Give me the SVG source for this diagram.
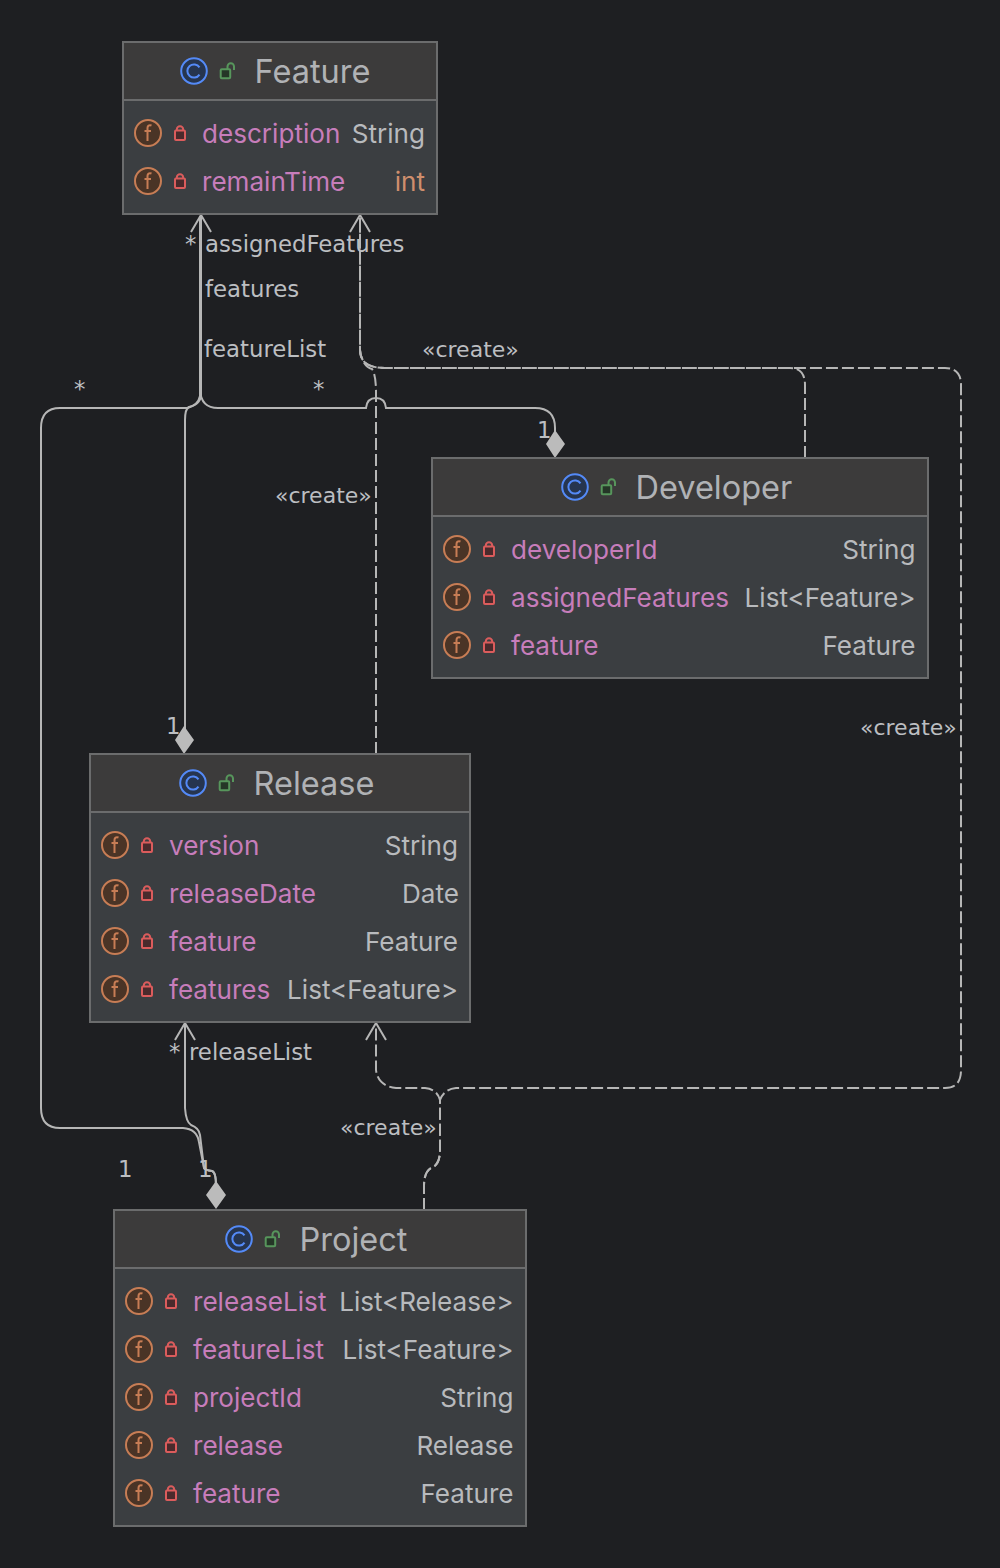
<svg xmlns="http://www.w3.org/2000/svg" width="1000" height="1568" viewBox="0 0 1000 1568">
<style>
.body{fill:#3b3e41;stroke:#6b6c6d;stroke-width:2}
.head{fill:#3c3b3b}
.sep{stroke:#6b6c6d;stroke-width:2}
text{font-family:"Inter","Liberation Sans",sans-serif}
.title{font-size:32.5px;fill:#b0b2b5}
.name{font-size:26.1px;fill:#c77dbb}
.type{font-size:26.1px;fill:#b8babd;text-anchor:end}
.type.prim{fill:#cf8e6d}
.lab{font-family:"DejaVu Sans",sans-serif;font-size:22.8px;fill:#bcbec1}
.cr{font-family:"DejaVu Sans",sans-serif;font-size:22px;fill:#bcbec1}
.conn{fill:none;stroke:#b6b6b6;stroke-width:2}
.dash{stroke-dasharray:12 4}
.dia{fill:#bbb}
</style>
<defs>
<g id="ic"><circle r="12.8" fill="#26354f" stroke="#548af7" stroke-width="2"/><path d="M5.500-3.600A6.600 6.600 0 1 0 5.500 3.600" fill="none" stroke="#548af7" stroke-width="2"/></g>
<g id="ul"><rect x="-7.300" y="-1.700" width="9.500" height="9" rx="1" fill="#253627" stroke="#57965c" stroke-width="2"/><path d="M-.5-2V-4.500A3.200 3.200 0 0 1 6-4.500V-1" fill="none" stroke="#57965c" stroke-width="2"/></g>
<g id="if"><circle r="13" fill="#4a3426" stroke="#c77d55" stroke-width="2"/><path d="M3.500-7.500C1-8.500-.5-7-.5-5V8M-3.500-2H3" fill="none" stroke="#c77d55" stroke-width="2"/></g>
<g id="lk"><rect x="-5" y="-2.500" width="10" height="9.500" rx="1" fill="#4a2a2c" stroke="#db5c5c" stroke-width="2"/><path d="M-3.200-2.500V-3.500A3.200 3.200 0 0 1 3.200-3.500V-2.500" fill="none" stroke="#db5c5c" stroke-width="2"/></g>
</defs>
<rect width="1000" height="1568" fill="#1e1f22"/>
<g id="connectors">
<path class="conn" d="M201 216V396Q200 405 187 408H60Q41 408 41 428V1108Q41 1128 60 1128H183Q197 1129 199 1142L204 1168Q205 1170 212 1171Q216 1172 216 1186"/>
<path class="conn" d="M200 216V396Q198 405 189 407Q185 409 185 420V730"/>
<path class="conn" d="M200 390Q201 408 218 408H366Q367 398 376 398Q385 398 386 408H535Q555 408 555 428V436"/>
<path class="conn" d="M185 1024V1108Q186 1122 191 1125Q199 1128 200 1135L204 1168Q205 1170 212 1171Q216 1172 216 1186"/>
<path class="conn dash" d="M376 754V392Q376 375 372 369Q362 366 360 350V216"/>
<path class="conn dash" d="M805 458V385Q805 368 790 368H385Q360 368 360 350V216"/>
<path class="conn dash" d="M424 1210V1186Q424 1172 431 1168Q440 1165 440 1150V1100Q444 1089 456 1088H945Q961 1088 961 1070V385Q961 368 945 368H385Q360 368 360 350V216"/>
<path class="conn dash" d="M424 1210V1186Q424 1172 431 1168Q440 1165 440 1150V1100Q437 1089 425 1088H396Q378 1086 376 1070V1024"/>
<path class="conn" d="M191 232L201 215L211 232M350 232L360 215L370 232M175 1040L185 1023L195 1040M366 1040L376 1023L386 1040"/>
<path class="dia" d="M555 430L565 444L555 458L546 444ZM184 726L194 740L184 754L175 740ZM216 1181L226 1195L216 1209L206 1195Z"/>
<text class="lab" x="185" y="252">*</text>
<text class="lab" x="205" y="252">assignedFeatures</text>
<text class="lab" x="205" y="297">features</text>
<text class="lab" x="204" y="357">featureList</text>
<text class="lab" x="74" y="397">*</text>
<text class="lab" x="313" y="397">*</text>
<text class="cr" x="422" y="357">«create»</text>
<text class="cr" x="275" y="503">«create»</text>
<text class="cr" x="860" y="735">«create»</text>
<text class="cr" x="340" y="1135">«create»</text>
<text class="lab" x="537" y="438">1</text>
<text class="lab" x="166" y="734">1</text>
<text class="lab" x="118" y="1177">1</text>
<text class="lab" x="198" y="1177">1</text>
<text class="lab" x="169" y="1060">*</text>
<text class="lab" x="189" y="1060">releaseList</text>
</g>
<g id="feature">
<rect class="body" x="123" y="42" width="314" height="172"/><rect class="head" x="124" y="43" width="312" height="57"/><path class="sep" d="M124 100H436"/>
<use href="#ic" x="194" y="71"/><use href="#ul" x="228" y="71"/><text class="title" x="254.500" y="83">Feature</text>
<use href="#if" x="148" y="133"/><use href="#lk" x="180" y="133"/><text class="name" x="202" y="143">description</text><text class="type" x="425" y="143">String</text>
<use href="#if" x="148" y="181"/><use href="#lk" x="180" y="181"/><text class="name" x="202" y="191">remainTime</text><text class="type prim" x="425" y="191">int</text>
</g>
<g id="developer">
<rect class="body" x="432" y="458" width="496" height="220"/><rect class="head" x="433" y="459" width="494" height="57"/><path class="sep" d="M433 516H927"/>
<use href="#ic" x="575" y="487"/><use href="#ul" x="609" y="487"/><text class="title" x="635.500" y="499">Developer</text>
<use href="#if" x="457" y="549"/><use href="#lk" x="489" y="549"/><text class="name" x="511" y="559">developerId</text><text class="type" x="915.500" y="559">String</text>
<use href="#if" x="457" y="597"/><use href="#lk" x="489" y="597"/><text class="name" x="511" y="607">assignedFeatures</text><text class="type" x="915.500" y="607" textLength="171">List&lt;Feature&gt;</text>
<use href="#if" x="457" y="645"/><use href="#lk" x="489" y="645"/><text class="name" x="511" y="655">feature</text><text class="type" x="915.500" y="655">Feature</text>
</g>
<g id="release">
<rect class="body" x="90" y="754" width="380" height="268"/><rect class="head" x="91" y="755" width="378" height="57"/><path class="sep" d="M91 812H469"/>
<use href="#ic" x="193" y="783"/><use href="#ul" x="227" y="783"/><text class="title" x="253.500" y="795">Release</text>
<use href="#if" x="115" y="845"/><use href="#lk" x="147" y="845"/><text class="name" x="169" y="855">version</text><text class="type" x="458" y="855">String</text>
<use href="#if" x="115" y="893"/><use href="#lk" x="147" y="893"/><text class="name" x="169" y="903">releaseDate</text><text class="type" x="459" y="903">Date</text>
<use href="#if" x="115" y="941"/><use href="#lk" x="147" y="941"/><text class="name" x="169" y="951">feature</text><text class="type" x="458" y="951">Feature</text>
<use href="#if" x="115" y="989"/><use href="#lk" x="147" y="989"/><text class="name" x="169" y="999">features</text><text class="type" x="458" y="999" textLength="171">List&lt;Feature&gt;</text>
</g>
<g id="project">
<rect class="body" x="114" y="1210" width="412" height="316"/><rect class="head" x="115" y="1211" width="410" height="57"/><path class="sep" d="M115 1268H525"/>
<use href="#ic" x="239" y="1239"/><use href="#ul" x="273" y="1239"/><text class="title" x="299.500" y="1251">Project</text>
<use href="#if" x="139" y="1301"/><use href="#lk" x="171" y="1301"/><text class="name" x="193" y="1311">releaseList</text><text class="type" x="513.500" y="1311">List&lt;Release&gt;</text>
<use href="#if" x="139" y="1349"/><use href="#lk" x="171" y="1349"/><text class="name" x="193" y="1359">featureList</text><text class="type" x="513.500" y="1359" textLength="171">List&lt;Feature&gt;</text>
<use href="#if" x="139" y="1397"/><use href="#lk" x="171" y="1397"/><text class="name" x="193" y="1407">projectId</text><text class="type" x="513.500" y="1407">String</text>
<use href="#if" x="139" y="1445"/><use href="#lk" x="171" y="1445"/><text class="name" x="193" y="1455">release</text><text class="type" x="513.500" y="1455">Release</text>
<use href="#if" x="139" y="1493"/><use href="#lk" x="171" y="1493"/><text class="name" x="193" y="1503">feature</text><text class="type" x="513.500" y="1503">Feature</text>
</g>
</svg>
